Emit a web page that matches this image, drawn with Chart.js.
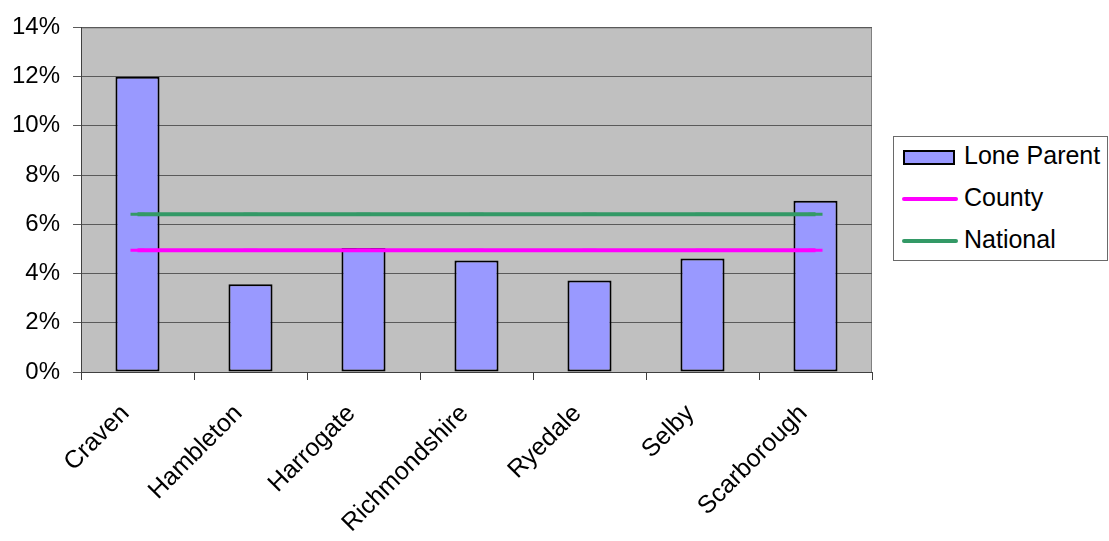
<!DOCTYPE html>
<html>
<head>
<meta charset="utf-8">
<script src="https://cdn.jsdelivr.net/npm/chart.js@4/dist/chart.umd.min.js"></script>
<style>
  html, body { margin: 0; padding: 0; background: #fff; }
  #wrap { position: relative; width: 1109px; height: 541px; overflow: hidden; }
  #chart { position: absolute; left: 0; top: 0; }
  #legend {
    position: absolute; left: 893px; top: 136px; width: 215px; height: 125px;
    border: 1px solid #6a6a6a; background: #fff; box-sizing: border-box;
    font-family: "Liberation Sans", Arial, sans-serif; font-size: 25px; color: #000;
  }
  .row { position: absolute; left: 0; height: 30px; width: 100%; }
  .row span { position: absolute; left: 70px; top: 0; line-height: 30px; white-space: nowrap; }
  .swatch { position: absolute; left: 9px; top: 10px; width: 48px; height: 11px; background: #9999ff; border: 2px solid #000; }
  .stroke { position: absolute; left: 8px; top: 15px; width: 56px; height: 4px; border-radius: 2px; }
</style>
</head>
<body>
<div id="wrap">
  <canvas id="chart" width="1109" height="541"></canvas>
  <div id="legend"></div>
</div>
<script>
// Lone parent households by district, with county and national averages (%)
const districts = ["Craven", "Hambleton", "Harrogate", "Richmondshire", "Ryedale", "Selby", "Scarborough"];
const loneParent = [12.0, 3.56, 5.04, 4.53, 3.72, 4.61, 6.96];
const county = [4.95, 4.95, 4.95, 4.95, 4.95, 4.95, 4.95];
const national = [6.41, 6.41, 6.41, 6.41, 6.41, 6.41, 6.41];
const yTicks = [0, 2, 4, 6, 8, 10, 12, 14];

const FONT = '"Liberation Sans", Arial, sans-serif';

// grey plot background plus the thin frame round it
const plotBackground = {
    id: 'plotBackground',
    beforeDraw(chart) {
        const { ctx, chartArea: a } = chart;
        ctx.save();
        ctx.fillStyle = '#c0c0c0';
        ctx.fillRect(a.left, a.top, a.right - a.left, a.bottom - a.top);
        ctx.strokeStyle = '#808080';
        ctx.lineWidth = 1;
        ctx.strokeRect(a.left + 0.5, a.top + 0.5, a.right - a.left - 1, a.bottom - a.top);
        ctx.restore();
    }
};

const ctx = document.getElementById('chart').getContext('2d');
const chart = new Chart(ctx, {
    type: 'bar',
    data: {
        labels: districts,
        datasets: [
            {
                type: 'line',
                label: 'National',
                data: national,
                borderColor: '#339966',
                backgroundColor: '#339966',
                borderWidth: 4,
                pointStyle: 'line',
                pointRadius: 7,
                pointBorderWidth: 3,
                order: 0
            },
            {
                type: 'line',
                label: 'County',
                data: county,
                borderColor: '#ff00ff',
                backgroundColor: '#ff00ff',
                borderWidth: 4,
                pointStyle: 'line',
                pointRadius: 7,
                pointBorderWidth: 3,
                order: 1
            },
            {
                label: 'Lone Parent',
                data: loneParent,
                backgroundColor: '#9999ff',
                borderColor: '#000000',
                borderWidth: 2,
                borderSkipped: false,
                categoryPercentage: 1.0,
                barPercentage: 0.39,
                order: 2
            }
        ]
    },
    options: {
        responsive: false,
        animation: false,
        layout: { padding: { top: 26, right: 237, left: 0, bottom: 0 } },
        plugins: {
            legend: { display: false },
            tooltip: { enabled: false }
        },
        scales: {
            x: {
                offset: true,
                grid: {
                    offset: true,
                    drawOnChartArea: false,
                    drawTicks: true,
                    tickLength: 8,
                    color: '#404040'
                },
                border: { display: true, color: '#404040', width: 1 },
                ticks: {
                    font: { family: FONT, size: 25 },
                    color: '#000',
                    maxRotation: 45,
                    minRotation: 45,
                    autoSkip: false,
                    padding: 19,
                    labelOffset: -12
                },
                afterFit(scale) { scale.height = 169; }
            },
            y: {
                min: 0,
                max: 14,
                afterBuildTicks(scale) { scale.ticks = yTicks.map(v => ({ value: v })); },
                grid: {
                    color: '#5a5a5a',
                    lineWidth: 1,
                    tickLength: 8
                },
                border: { display: true, color: '#404040', width: 1 },
                ticks: {
                    font: { family: FONT, size: 24 },
                    color: '#000',
                    padding: 13,
                    callback: v => v + '%'
                },
                afterFit(scale) { scale.width = 81; }
            }
        }
    },
    plugins: [plotBackground]
});

// legend box on the right
const legendEl = document.getElementById('legend');
const rows = [
    { label: 'Lone Parent', kind: 'bar', color: '#9999ff', top: 3 },
    { label: 'County', kind: 'line', color: '#ff00ff', top: 45 },
    { label: 'National', kind: 'line', color: '#339966', top: 87 }
];
rows.forEach(r => {
    const row = document.createElement('div');
    row.className = 'row';
    row.style.top = r.top + 'px';
    const mark = document.createElement('div');
    if (r.kind === 'bar') {
        mark.className = 'swatch';
    } else {
        mark.className = 'stroke';
        mark.style.background = r.color;
    }
    const text = document.createElement('span');
    text.textContent = r.label;
    row.appendChild(mark);
    row.appendChild(text);
    legendEl.appendChild(row);
});
</script>
</body>
</html>
